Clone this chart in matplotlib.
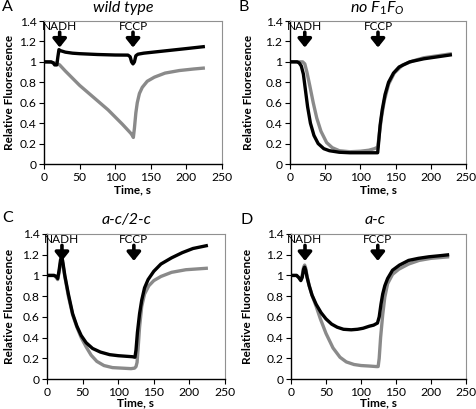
import matplotlib.pyplot as plt
from matplotlib.ticker import FuncFormatter

plt.rcParams['font.family'] = ['Lato', 'DejaVu Sans']
plt.rcParams['mathtext.fontset'] = 'custom'
plt.rcParams['mathtext.it'] = 'Lato:italic'
plt.rcParams['mathtext.rm'] = 'Lato'

# Panel A - wild type
a_black_t = [0, 10, 13, 15, 18, 19.5, 21, 23, 30, 40, 50, 75, 100, 118, 121, 123, 125, 127, 129, 132, 140, 160, 180, 200, 226]
a_black_v = [1.0, 1.0, 0.99, 0.97, 0.97, 1.05, 1.12, 1.11, 1.095, 1.085, 1.08, 1.072, 1.067, 1.066, 1.05, 1.0, 0.98, 1.0, 1.06, 1.075, 1.085, 1.10, 1.115, 1.13, 1.15]
a_grey_t = [0, 10, 18, 22, 30, 40, 50, 60, 75, 90, 100, 110, 118, 122, 124, 125.5, 127, 129, 131, 134, 138, 145, 155, 170, 190, 210, 226]
a_grey_v = [1.0, 0.995, 0.985, 0.97, 0.91, 0.84, 0.77, 0.71, 0.62, 0.53, 0.46, 0.39, 0.33, 0.30, 0.28, 0.26, 0.35, 0.50, 0.60, 0.69, 0.75, 0.81, 0.85, 0.89, 0.915, 0.93, 0.94]

# Panel B - no F1FO
b_black_t = [0, 10, 13, 16, 19, 22, 25, 29, 34, 40, 48, 56, 70, 85, 100, 115, 122, 124.5, 126, 128, 131, 135, 140, 147, 155, 170, 190, 210, 230]
b_black_v = [1.0, 1.0, 0.99, 0.96, 0.88, 0.72, 0.56, 0.40, 0.28, 0.20, 0.15, 0.13, 0.115, 0.11, 0.11, 0.11, 0.11, 0.11, 0.22, 0.38, 0.53, 0.68, 0.80, 0.89, 0.95, 1.00, 1.03, 1.05, 1.07]
b_grey_t = [0, 10, 18, 21, 24, 28, 33, 38, 44, 52, 60, 70, 85, 100, 112, 120, 123, 124.5, 127, 130, 134, 140, 148, 160, 175, 190, 210, 230]
b_grey_v = [1.0, 1.0, 1.0, 0.98, 0.90, 0.77, 0.60, 0.45, 0.32, 0.21, 0.16, 0.13, 0.12, 0.125, 0.135, 0.15, 0.16, 0.16, 0.30, 0.46, 0.62, 0.78, 0.89, 0.97, 1.01, 1.04, 1.06, 1.08]

# Panel C - a-c/2-c
c_black_t = [0, 10, 13, 15, 17, 19, 20.5, 22, 25, 30, 36, 42, 48, 55, 64, 75, 88, 100, 110, 120, 123.5, 125, 127, 130, 133, 137, 142, 150, 160, 175, 190, 205, 226]
c_black_v = [1.0, 1.0, 0.99, 0.97, 1.05, 1.15, 1.18, 1.14, 1.00, 0.82, 0.63, 0.51, 0.42, 0.35, 0.295, 0.26, 0.235, 0.225, 0.22, 0.215, 0.21, 0.28, 0.45, 0.63, 0.76, 0.88, 0.96, 1.04, 1.11, 1.17, 1.22, 1.26, 1.29]
c_grey_t = [0, 10, 13, 15, 17, 19, 20.5, 22, 25, 30, 36, 42, 48, 55, 62, 70, 80, 92, 105, 118, 123, 125, 126.5, 128, 130, 133, 137, 143, 150, 160, 175, 195, 226]
c_grey_v = [1.0, 1.0, 0.98, 0.96, 1.03, 1.12, 1.15, 1.12, 0.99, 0.80, 0.62, 0.50, 0.40, 0.31, 0.23, 0.17, 0.13, 0.11, 0.105, 0.10, 0.105, 0.12, 0.16, 0.30, 0.50, 0.70, 0.82, 0.90, 0.95, 0.99, 1.03, 1.055, 1.07]

# Panel D - a-c
d_black_t = [0, 8, 11, 14, 16, 18, 19.5, 21, 23, 26, 30, 36, 43, 50, 58, 66, 75, 86, 95, 103, 112, 118, 123.5, 126, 128.5, 131, 134, 138, 145, 155, 168, 182, 197, 212, 226]
d_black_v = [1.0, 1.0, 0.98, 0.95, 0.98, 1.06, 1.08, 1.05, 0.98, 0.90, 0.81, 0.72, 0.64, 0.58, 0.53, 0.50, 0.48, 0.475, 0.48, 0.49, 0.51, 0.52, 0.54, 0.60, 0.72, 0.82, 0.90, 0.97, 1.05, 1.10, 1.145, 1.165, 1.18, 1.19, 1.20]
d_grey_t = [0, 8, 11, 14, 16, 18, 19.5, 21, 23, 26, 30, 36, 42, 50, 60, 70, 79, 90, 100, 112, 122, 124.5, 126, 128, 131, 134, 138, 145, 154, 168, 183, 200, 226]
d_grey_v = [1.0, 1.0, 0.98, 0.96, 1.00, 1.08, 1.10, 1.07, 0.99, 0.90, 0.81, 0.70, 0.58, 0.44, 0.30, 0.21, 0.165, 0.14, 0.13, 0.125, 0.12, 0.12, 0.20, 0.40, 0.62, 0.79, 0.92, 1.01, 1.06, 1.11, 1.145, 1.165, 1.18]

# time of additions (NADH, FCCP) per panel
nadh_t = [22, 21, 21, 20]
fccp_t = [125, 125, 122, 124]

W, H = 477, 409
fig = plt.figure(figsize=(W / 100, H / 100), dpi=100)

# axes boxes in pixels: left, right, top, bottom
boxes = [(44, 222, 21, 164), (290, 466, 21, 164), (47, 225, 234, 379), (291, 466, 234, 379)]
curves = [(a_black_t, a_black_v, a_grey_t, a_grey_v),
          (b_black_t, b_black_v, b_grey_t, b_grey_v),
          (c_black_t, c_black_v, c_grey_t, c_grey_v),
          (d_black_t, d_black_v, d_grey_t, d_grey_v)]
titles = ['wild type', r'$\mathit{no\ F_1F_O}$', 'a-c/2-c', 'a-c']
title_pos = [(123, 8), (377, 8), (127, 220), (375, 220)]
letters = ['A', 'B', 'C', 'D']
letter_pos = [(2, 7), (239, 7), (2, 218), (241, 220)]
ylabel_x = [-0.165, -0.205, -0.18, -0.215]
xlabel_pad = [1.5, 1.5, -0.5, -0.5]

grey = '#8a8a8a'

for i in range(4):
    l, r, t, b = boxes[i]
    ax = fig.add_axes([l / W, 1 - b / H, (r - l) / W, (b - t) / H])
    bt, bv, gt, gv = curves[i]
    ax.plot(gt, gv, color=grey, lw=2.4, solid_capstyle='butt')
    ax.plot(bt, bv, color='black', lw=2.4, solid_capstyle='butt')

    ax.set_xlim(0, 250)
    ax.set_ylim(0, 1.4)
    ax.set_xticks([0, 50, 100, 150, 200, 250])
    ax.set_yticks([0, 0.2, 0.4, 0.6, 0.8, 1.0, 1.2, 1.4])
    ax.yaxis.set_major_formatter(FuncFormatter(lambda v, p: '%g' % round(v, 1)))
    ax.tick_params(direction='out', length=3.5, width=0.8, labelsize=8.7, pad=2)

    for s in ['top', 'right']:
        ax.spines[s].set_color('#909090')
        ax.spines[s].set_linewidth(0.8)
    for s in ['left', 'bottom']:
        ax.spines[s].set_color('black')
        ax.spines[s].set_linewidth(1.0)

    ax.set_xlabel('Time, s', fontsize=8.5, fontweight='bold', labelpad=xlabel_pad[i])
    ax.set_ylabel('Relative Fluorescence', fontsize=8.5, fontweight='bold')
    ax.yaxis.set_label_coords(ylabel_x[i], 0.5)

    # additions
    for x0, name in [(nadh_t[i], 'NADH'), (fccp_t[i], 'FCCP')]:
        ax.text(x0, 1.345, name, ha='center', va='center', fontsize=8.5)
        ax.annotate('', xy=(x0, 1.14), xytext=(x0, 1.29),
                    arrowprops=dict(arrowstyle='-|>,head_width=0.4,head_length=0.5',
                                    lw=2.6, color='black', shrinkA=0, shrinkB=0))

    fig.text(title_pos[i][0] / W, 1 - title_pos[i][1] / H, titles[i],
             ha='center', va='center', fontsize=11.5, style='italic')
    fig.text(letter_pos[i][0] / W, 1 - letter_pos[i][1] / H, letters[i],
             ha='left', va='center', fontsize=11.5)

plt.savefig('out.png', dpi=100)
